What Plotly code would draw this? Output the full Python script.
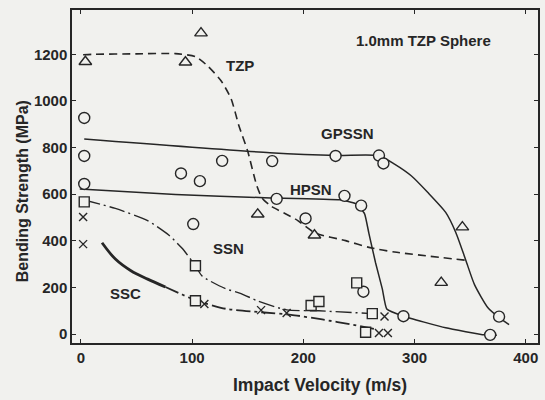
import plotly.graph_objects as go

# ---- data ----
tzp_x = [4, 94, 108, 159, 210, 343, 324]
tzp_y = [1168, 1166, 1291, 514, 424, 459, 221]

circ_x = [3, 3, 3, 90, 107, 127, 172, 229, 268, 272,
          176, 237, 252, 101, 202, 254, 290, 376, 368]
circ_y = [927, 764, 644, 689, 656, 743, 742, 764, 766, 732,
          580, 593, 551, 472, 496, 182, 77, 75, -3]

sq_x = [3, 103, 103, 248, 207, 214, 262, 256]
sq_y = [567, 293, 143, 220, 123, 140, 88, 8]

cross_x = [2, 2, 111, 162, 185, 273, 268, 276]
cross_y = [502, 386, 129, 103, 91, 76, 5, 5]

# fitted curves
tzp_cx = [2, 10, 50, 85, 103, 114, 126, 135, 142, 150, 158, 163, 171, 193, 211, 238, 259, 282, 346]
tzp_cy = [1198, 1200, 1202, 1203, 1190, 1150, 1087, 1010, 895, 784, 639, 583, 549, 493, 433, 401, 372, 352, 317]

gps_cx = [3, 170, 230, 268, 282, 297, 312, 328, 337, 346, 354, 366, 376, 385]
gps_cy = [837, 778, 766, 765, 729, 679, 607, 522, 437, 318, 211, 113, 71, 41]

hps_cx = [-1, 85, 165, 233, 247, 255, 259, 265, 271, 275, 290, 328, 363, 374]
hps_cy = [622, 599, 585, 576, 560, 517, 431, 305, 194, 108, 77, 27, -3, -5]

ssn_cx = [3, 31, 60, 79, 91, 103, 109, 130, 144, 159, 185, 214, 262]
ssn_cy = [575, 539, 487, 425, 368, 293, 249, 195, 174, 142, 104, 100, 88]

ssc_solid_x = [19, 31, 45, 60, 76]
ssc_solid_y = [392, 322, 272, 236, 202]
ssc_dash_x = [76, 91, 103, 131, 162, 189, 217, 245, 264]
ssc_dash_y = [202, 170, 145, 108, 94, 83, 63, 40, 22]

labels = ["TZP", "1.0mm TZP Sphere", "GPSSN", "HPSN", "SSN", "SSC"]
label_x = [143, 308, 240, 207, 133, 40]
label_y = [1152, 1259, 859, 620, 366, 175]

x_title = "Impact Velocity (m/s)"
y_title = "Bending Strength (MPa)"

ink = "#262626"
bg = "#f1f1ee"
font_family = "Liberation Sans, Arial, sans-serif"

fig = go.Figure()

def curve(x, y, dash, width=1.5, smooth=0.6):
    fig.add_trace(go.Scatter(x=x, y=y, mode="lines",
                             line=dict(color=ink, width=width, dash=dash,
                                       shape="spline", smoothing=smooth),
                             showlegend=False, hoverinfo="skip"))

curve(tzp_cx, tzp_cy, "8px,5px", 1.6)
curve(gps_cx, gps_cy, "solid", 1.5)
curve(hps_cx, hps_cy, "solid", 1.5, 0.4)
curve(ssn_cx, ssn_cy, "16px,4px,2px,4px", 1.4)
curve(ssc_solid_x, ssc_solid_y, "solid", 2.8, 1.0)
curve(ssc_dash_x, ssc_dash_y, "14px,4px,3px,4px", 1.8)

def marks(x, y, symbol, size):
    fig.add_trace(go.Scatter(x=x, y=y, mode="markers",
                             marker=dict(symbol=symbol, size=size, color=bg,
                                         line=dict(color=ink, width=1.4)),
                             showlegend=False))

marks(tzp_x, tzp_y, "triangle-up", 11)
marks(circ_x, circ_y, "circle", 11)
marks(sq_x, sq_y, "square", 10)
fig.add_trace(go.Scatter(x=cross_x, y=cross_y, mode="markers",
                         marker=dict(symbol="x-thin", size=8,
                                     line=dict(color=ink, width=1.4)),
                         showlegend=False))

for t, lx, ly in zip(labels, label_x, label_y):
    fig.add_annotation(x=lx, y=ly, text=t, showarrow=False,
                       font=dict(size=15, color=ink, family=font_family, weight="bold"))

# axis titles (placed as in the reference)
fig.add_annotation(xref="paper", yref="paper", x=0.532, y=-0.126, text=x_title,
                   showarrow=False, xanchor="center", yanchor="middle",
                   font=dict(size=17.5, color=ink, family=font_family, weight="bold"))
fig.add_annotation(xref="paper", yref="paper", x=-0.107, y=0.456, text=y_title,
                   showarrow=False, textangle=-90, xanchor="center", yanchor="middle",
                   font=dict(size=16, color=ink, family=font_family, weight="bold"))

tick_font = dict(size=15, color=ink, family=font_family, weight="bold")
common = dict(showline=True, linecolor=ink, linewidth=1.5, mirror="ticks",
              ticks="inside", ticklen=4, tickcolor=ink, tickwidth=1.3,
              showgrid=False, zeroline=False, tickfont=tick_font)

fig.update_layout(
    width=545, height=400,
    margin=dict(l=72, r=5, t=10, b=57),
    paper_bgcolor=bg, plot_bgcolor=bg,
    xaxis=dict(range=[-8, 411], tickvals=[0, 100, 200, 300, 400], **common),
    yaxis=dict(range=[-38, 1390], tickvals=[0, 200, 400, 600, 800, 1000, 1200], **common),
)

fig.write_html("out.html")
